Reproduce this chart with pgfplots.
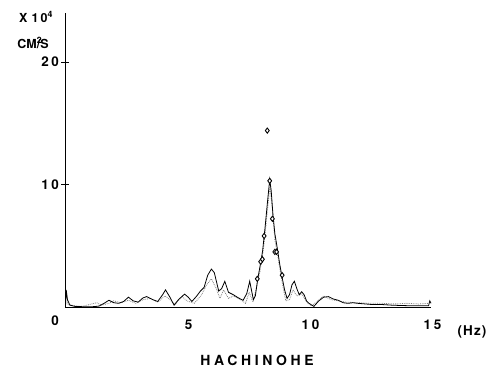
\documentclass[border=0pt]{standalone}
\usepackage{pgfplots}
\pgfplotsset{compat=1.18}
\usepackage{fontspec}
\setmainfont{TeX Gyre Heros}
\newfontfamily\lblfont[LetterSpace=20]{TeX Gyre Heros}
\newfontfamily\hzfont[LetterSpace=8]{TeX Gyre Heros}
\newfontfamily\titfont[LetterSpace=26]{TeX Gyre Heros}
\pgfplotstableread{
x y
0.02 0
0.05 1.4
0.1 0.6
0.2 0.15
0.4 0.05
0.8 0.02
1.2 0.03
1.4 0.08
1.6 0.3
1.8 0.55
2.0 0.35
2.2 0.3
2.4 0.45
2.6 0.8
2.8 0.5
3.0 0.4
3.2 0.75
3.35 0.85
3.6 0.6
3.8 0.45
4.0 1.0
4.12 1.4
4.3 0.8
4.47 0.15
4.65 0.6
4.9 1.05
5.05 0.8
5.2 0.45
5.4 0.9
5.55 1.3
5.7 1.6
5.85 2.6
6.0 3.1
6.12 2.8
6.3 1.3
6.42 1.5
6.55 2.1
6.7 1.2
6.9 1.0
7.1 0.75
7.3 0.55
7.45 1.1
7.57 2.1
7.65 1.3
7.72 0.6
7.8 0.9
7.9 2.3
8.0 3.4
8.1 4.6
8.2 6.5
8.3 8.6
8.39 10.4
8.45 9.5
8.52 7.6
8.6 6.0
8.7 4.8
8.8 3.5
8.9 2.4
9.0 1.4
9.1 0.7
9.2 1.0
9.3 1.8
9.4 2.1
9.5 1.5
9.6 1.0
9.7 1.25
9.8 1.0
9.9 0.5
10.0 0.3
10.2 0.05
10.4 0.5
10.6 0.8
10.8 0.85
11.0 0.65
11.2 0.55
11.4 0.35
11.6 0.3
11.8 0.35
12.0 0.3
12.3 0.25
12.6 0.2
13.0 0.2
13.4 0.15
13.8 0.12
14.2 0.1
14.6 0.1
14.9 0.1
14.95 0.5
15.0 0.3
}\solid
\pgfplotstableread{
x y
0.05 1.3
0.12 0.2
0.4 0.1
0.7 0.05
1.0 0.2
1.3 0.35
1.5 0.15
1.8 0.3
2.0 0.5
2.3 0.35
2.6 0.55
2.9 0.3
3.2 0.6
3.5 0.7
3.8 0.4
4.1 0.9
4.3 0.6
4.5 0.2
4.8 0.85
5.0 0.5
5.3 0.3
5.6 1.0
5.8 1.8
6.0 2.3
6.2 1.5
6.35 0.7
6.5 1.4
6.7 0.7
6.9 0.9
7.2 0.6
7.4 0.3
7.55 1.2
7.7 0.4
7.85 1.6
8.0 3.0
8.15 5.0
8.3 8.0
8.4 9.8
8.5 8.0
8.6 5.5
8.75 3.8
8.9 2.0
9.05 0.5
9.2 0.6
9.35 1.4
9.5 0.9
9.7 1.1
9.9 0.4
10.1 0.1
10.3 0.4
10.6 0.9
10.9 0.6
11.2 0.5
11.5 0.4
12.0 0.35
12.5 0.3
13.0 0.3
13.5 0.25
14.0 0.3
14.5 0.25
14.9 0.3
}\dotted
\pgfplotstableread{
x y
8.29 14.4
8.39 10.3
8.50 7.2
8.16 5.8
8.60 4.5
8.67 4.5
8.02 3.7
8.09 3.9
7.88 2.3
8.90 2.6
}\marks
\begin{document}
\begin{tikzpicture}
\begin{axis}[
  at={(0,0)}, anchor=south west,
  scale only axis, width=366bp, height=294bp,
  xmin=0, xmax=15, ymin=0, ymax=24,
  axis x line=bottom, axis y line=left,
  axis line style={-, line width=0.8pt},
  xtick={5,10,15}, ytick={10,20},
  xtick style={draw=none},
  ytick style={line width=0.8pt, black},
  tick align=center, major tick length=7bp,
  /pgf/number format/assume math mode=true,
  ticklabel style={font=\lblfont\bfseries\fontsize{13.5}{15}\selectfont},
  xticklabel style={yshift=-6bp, xshift=1.5bp},
  yticklabel style={xshift=1bp},
  clip=false,
]
\addplot[gray, densely dotted, line width=0.8pt] table[x=x,y=y]{\dotted};
\addplot[black, line width=0.8pt] table[x=x,y=y]{\solid};
\addplot[only marks, mark=diamond*, mark size=2.6pt, mark options={fill=white, draw=black, line width=0.9pt}] table[x=x,y=y]{\marks};
\node[font=\lblfont\bfseries\fontsize{13.5}{15}\selectfont] at (rel axis cs:0,0) [xshift=-10bp, yshift=-14bp] {0};
\end{axis}
\node[font=\bfseries\fontsize{12.5}{14}\selectfont] at (-29bp,290bp) {X\,\,1\,0$^{\mathbf{4}}$};
\node[font=\bfseries\fontsize{12.5}{14}\selectfont] at (-32bp,264bp) {CM\rlap{$^{\mathbf{2}}$}/S};
\node[font=\hzfont\bfseries\fontsize{13.5}{15}\selectfont] at (407bp,-25bp) {(Hz)};
\node[font=\titfont\bfseries\fontsize{14}{16}\selectfont] at (192bp,-53bp) {HACHINOHE};
\pgfresetboundingbox
\path[use as bounding box] (-65bp,-64bp) rectangle (431bp,307bp);
\end{tikzpicture}
\end{document}
